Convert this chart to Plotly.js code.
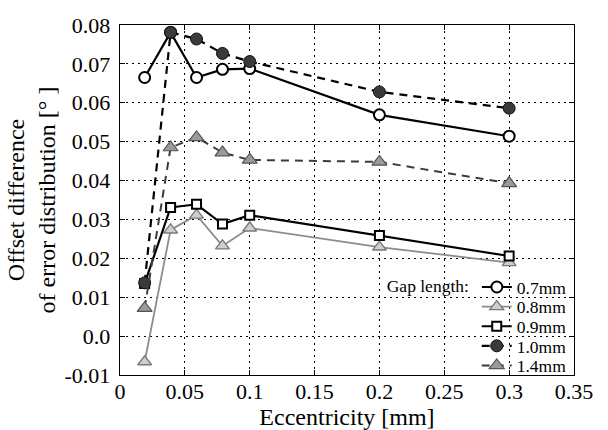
<!DOCTYPE html>
<html>
<head>
<meta charset="utf-8">
<script src="https://cdn.plot.ly/plotly-3.0.1.min.js"></script>
<style>html,body{margin:0;padding:0;background:#fff;}#chart{width:608px;height:430px;}</style>
</head>
<body>
<div id="chart"></div>
<script>
// Eccentricity [mm]
const eccentricity = [0.019, 0.039, 0.059, 0.079, 0.1, 0.2, 0.3];
// Offset difference of error distribution [deg], per gap length
const gap07 = [0.0665, 0.0781, 0.0665, 0.0686, 0.0688, 0.0569, 0.0514];
const gap08 = [-0.0066, 0.0273, 0.0311, 0.0232, 0.0278, 0.0229, 0.0189];
const gap09 = [0.0135, 0.0331, 0.0339, 0.0288, 0.0311, 0.0259, 0.0206];
const gap10 = [0.0137, 0.0781, 0.0764, 0.0727, 0.0706, 0.0628, 0.0586];
const gap14 = [0.0072, 0.0485, 0.0511, 0.0472, 0.0453, 0.0448, 0.0393];
const seriesNames = ["0.7mm", "0.8mm", "0.9mm", "1.0mm", "1.4mm"];
const legendTitle = "Gap length:";
const yTickVals = [-0.01, 0, 0.01, 0.02, 0.03, 0.04, 0.05, 0.06, 0.07, 0.08];
const yTickText = ["-0.01", "0.0", "0.01", "0.02", "0.03", "0.04", "0.05", "0.06", "0.07", "0.08"];
const xTickVals = [0, 0.05, 0.1, 0.15, 0.2, 0.25, 0.3, 0.35];
const xTickText = ["0", "0.05", "0.1", "0.15", "0.2", "0.25", "0.3", "0.35"];

const FONT = "Liberation Serif";
const LEG_FONT = {family: FONT, size: 17.5, color: "#000"};

const traces = [
  {x: eccentricity, y: gap07, name: seriesNames[0], legend: "legend", mode: "lines+markers",
   line: {color: "#000", width: 2.2},
   marker: {symbol: "circle", size: 11, color: "#fff", line: {color: "#000", width: 2}}},
  {x: eccentricity, y: gap08, name: seriesNames[1], legend: "legend2", mode: "lines+markers",
   line: {color: "#8c8c8c", width: 1.8},
   marker: {symbol: "triangle-up", size: 12, color: "#cfcfcf", line: {color: "#7a7a7a", width: 1.4}}},
  {x: eccentricity, y: gap09, name: seriesNames[2], legend: "legend3", mode: "lines+markers",
   line: {color: "#000", width: 2.2},
   marker: {symbol: "square", size: 9, color: "#fff", line: {color: "#000", width: 2}}},
  {x: eccentricity, y: gap10, name: seriesNames[3], legend: "legend4", mode: "lines+markers",
   line: {color: "#000", width: 2.2, dash: "8px,6px"},
   marker: {symbol: "circle", size: 12, color: "#3a3a3a", line: {color: "#111", width: 1}}},
  {x: eccentricity, y: gap14, name: seriesNames[4], legend: "legend5", mode: "lines+markers",
   line: {color: "#3c3c3c", width: 2, dash: "8px,6px"},
   marker: {symbol: "triangle-up", size: 13, color: "#9a9a9a", line: {color: "#555", width: 1.2}}}
];

function legendAt(yFrac, withTitle) {
  const lg = {
    x: 0.995, xanchor: "right", y: yFrac, yanchor: "middle",
    bgcolor: "rgba(255,255,255,0)", borderwidth: 0,
    font: LEG_FONT, itemwidth: 30, tracegroupgap: 0
  };
  if (withTitle) lg.title = {text: legendTitle, side: "left", font: LEG_FONT};
  return lg;
}

const axisCommon = {
  showgrid: true, gridcolor: "#000", griddash: "1.5px,4.5px", gridwidth: 1,
  zeroline: false, showline: true, linecolor: "#000", linewidth: 1.3, mirror: "ticks",
  ticks: "inside", ticklen: 5, tickcolor: "#000", tickwidth: 1,
  tickfont: {family: FONT, size: 22, color: "#000"}
};

const layout = {
  width: 608, height: 430,
  margin: {l: 120, r: 34, t: 25, b: 55},
  paper_bgcolor: "#fff", plot_bgcolor: "#fff",
  font: {family: FONT, size: 20, color: "#000"},
  showlegend: true,
  legend: legendAt(0.251, true),
  legend2: legendAt(0.195, false),
  legend3: legendAt(0.139, false),
  legend4: legendAt(0.083, false),
  legend5: legendAt(0.027, false),
  xaxis: Object.assign({}, axisCommon, {
    range: [0, 0.35], tickmode: "array", tickvals: xTickVals, ticktext: xTickText,
    ticklabelstandoff: -4,
    title: {text: "Eccentricity [mm]", font: {family: FONT, size: 24, color: "#000"}, standoff: 0}
  }),
  yaxis: Object.assign({}, axisCommon, {
    range: [-0.01, 0.08], tickmode: "array", tickvals: yTickVals, ticktext: yTickText,
    ticklabelstandoff: 4,
    title: {text: "Offset difference<br>of error distribution [° ]", font: {family: FONT, size: 24, color: "#000"}, standoff: 2}
  })
};

Plotly.newPlot("chart", traces, layout, {displayModeBar: false, staticPlot: true});
</script>
</body>
</html>
